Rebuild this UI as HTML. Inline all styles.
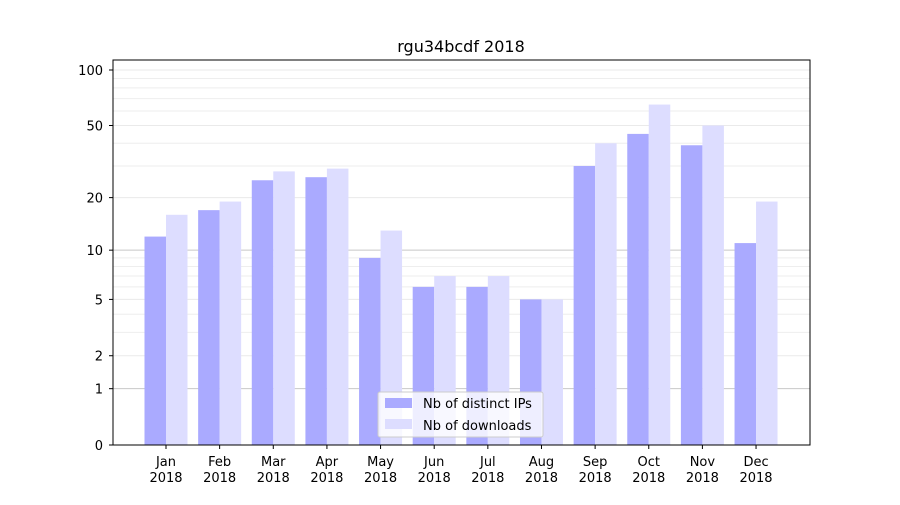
<!DOCTYPE html>
<html><head><meta charset="utf-8"><style>
body{margin:0;background:#fff;font-family:"Liberation Sans","DejaVu Sans",sans-serif}
svg text{font-family:"DejaVu Sans","Liberation Sans",sans-serif;font-size:13px;fill:#000}
</style></head><body>
<svg id="chart" width="900" height="500" xmlns="http://www.w3.org/2000/svg">
<rect width="900" height="500" fill="#fff"/>
<text x="461" y="52" text-anchor="middle" style="font-size:16px">rgu34bcdf 2018</text>
<g id="grid"></g><g id="bars"></g><g id="axes"></g>
<rect x="113" y="60" width="697" height="385" fill="none" stroke="#000" stroke-width="1"/>
<g>
<rect x="378" y="392" width="165" height="45" fill="#fff" fill-opacity="0.8" stroke="#ccc" rx="2"/>
<rect x="385" y="398" width="27" height="10" fill="#aaaaff"/>
<text x="423" y="408">Nb of distinct IPs</text>
<rect x="385" y="419" width="27" height="10" fill="#ddddff"/>
<text x="423" y="430">Nb of downloads</text>
</g>
</svg>
<script>
const months=["Jan","Feb","Mar","Apr","May","Jun","Jul","Aug","Sep","Oct","Nov","Dec"];
const ips=[12,17,25,26,9,6,6,5,30,45,39,11];
const downloads=[16,19,28,29,13,7,7,5,40,65,50,19];
const yTicks=[0,1,2,5,10,20,50,100];
const yMinor=[3,4,6,7,8,9,30,40,60,70,80,90];
const NS="http://www.w3.org/2000/svg";
function y(v){return 445-Math.log10(v+1)*187.1;}
function xc(i){return 166+i*53.64;}
function mk(p,tag,a){const e=document.createElementNS(NS,tag);for(const k in a)e.setAttribute(k,a[k]);p.appendChild(e);return e;}
const grid=document.getElementById('grid'),bars=document.getElementById('bars'),axes=document.getElementById('axes');
yMinor.forEach(v=>{const l=mk(grid,'line',{x1:113,x2:810,y1:y(v),y2:y(v),stroke:'#eee','stroke-width':1});

});
yTicks.forEach(v=>{const major=(v===1||v===10);
const l=mk(grid,'line',{x1:113,x2:810,y1:y(v),y2:y(v),stroke:major?'#c8c8c8':'#eaeaea','stroke-width':1});


const t=mk(axes,'line',{x1:109,x2:113,y1:y(v),y2:y(v),stroke:'#000'});


const tx=mk(axes,'text',{x:103,y:y(v)+5,'text-anchor':'end'});tx.textContent=v;

});
months.forEach((m,i)=>{const c=xc(i);
const b1=mk(bars,'rect',{x:c-21.5,y:y(ips[i]),width:21.5,height:445-y(ips[i]),fill:'#aaaaff'});


const b2=mk(bars,'rect',{x:c,y:y(downloads[i]),width:21.5,height:445-y(downloads[i]),fill:'#ddddff'});


const t=mk(axes,'line',{x1:c,x2:c,y1:445,y2:449,stroke:'#000'});


const tx=mk(axes,'text',{x:c,y:466,'text-anchor':'middle'});tx.textContent=m;


const ty=mk(axes,'text',{x:c,y:482,'text-anchor':'middle'});ty.textContent='2018';

});
</script>
</body></html>
